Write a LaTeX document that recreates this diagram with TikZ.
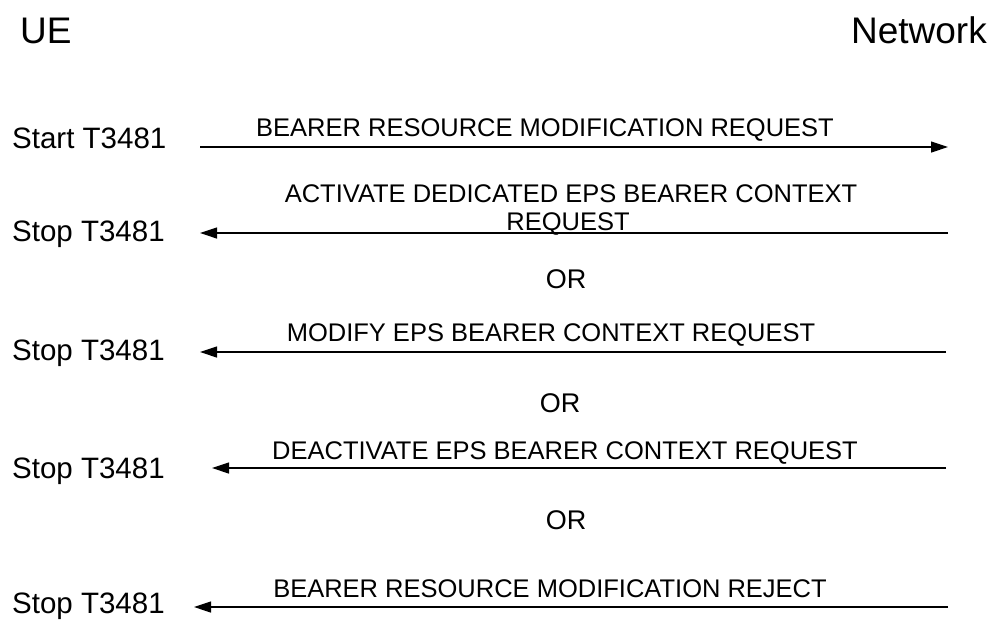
\documentclass[tikz,border=0pt]{standalone}
\usepackage{fontspec}
\setmainfont{Liberation Sans}
\usetikzlibrary{arrows.meta}
\begin{document}
\begin{tikzpicture}[x=1pt,y=-1pt,
  head/.style={font=\fontsize{37}{40}\selectfont, inner sep=0pt},
  timer/.style={font=\fontsize{29.5}{32}\selectfont, inner sep=0pt, anchor=base west},
  msg/.style={font=\fontsize{25.5}{30}\selectfont, inner sep=0pt, anchor=base},
  ortext/.style={font=\fontsize{27}{30}\selectfont, inner sep=0pt, anchor=base},
  sig/.style={line width=1.2pt, -{Triangle[length=17pt,width=11pt]}}]
\useasboundingbox (0,0) rectangle (992,619);
\node[head, anchor=base west] (ue) at (20,43) {UE};
\node[head, anchor=base east] (nw) at (987,43) {Network};

% timers
\node[timer] (t1) at (12,148) {Start T3481};
\node[timer] (t2) at (12,241) {Stop T3481};
\node[timer] (t3) at (12,360) {Stop T3481};
\node[timer] (t4) at (12,478) {Stop T3481};
\node[timer] (t5) at (12,613) {Stop T3481};

% arrow endpoints
\coordinate (a1s) at (200,147); \coordinate (a1e) at (948,147);
\coordinate (a2s) at (948,233); \coordinate (a2e) at (200,233);
\coordinate (a3s) at (946,352); \coordinate (a3e) at (200,352);
\coordinate (a4s) at (946,468); \coordinate (a4e) at (212,468);
\coordinate (a5s) at (948,607); \coordinate (a5e) at (194,607);

\draw[sig] (a1s) -- (a1e);
\draw[sig] (a2s) -- (a2e);
\draw[sig] (a3s) -- (a3e);
\draw[sig] (a4s) -- (a4e);
\draw[sig] (a5s) -- (a5e);

% messages
\node[msg] (m1) at (545,136) {BEARER RESOURCE MODIFICATION REQUEST};
\node[msg] (m2a) at (571,202) {ACTIVATE DEDICATED EPS BEARER CONTEXT};
\node[msg] (m2b) at (568,230) {REQUEST};
\node[msg] (m3) at (551,341) {MODIFY EPS BEARER CONTEXT REQUEST};
\node[msg] (m4) at (565,459) {DEACTIVATE EPS BEARER CONTEXT REQUEST};
\node[msg] (m5) at (550,597) {BEARER RESOURCE MODIFICATION REJECT};

% ORs
\node[ortext] (or1) at (566,288) {OR};
\node[ortext] (or2) at (560,412) {OR};
\node[ortext] (or3) at (566,529) {OR};
\end{tikzpicture}
\end{document}
